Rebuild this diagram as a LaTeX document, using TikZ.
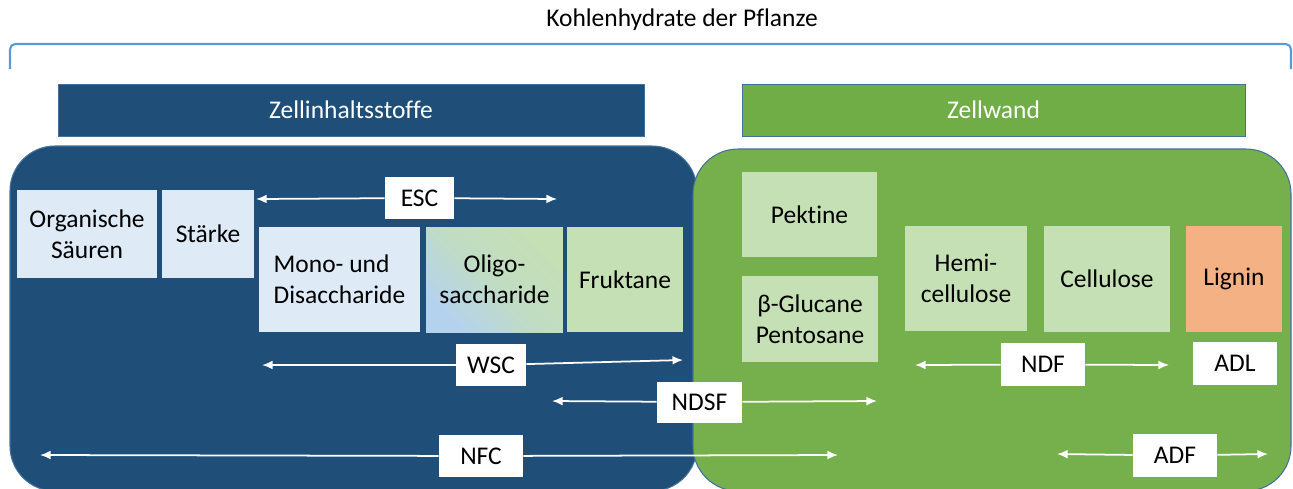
\documentclass[tikz,border=0pt]{standalone}
\usepackage{fontspec}
\setmainfont{Carlito}[Ligatures=NoCommon]
\usetikzlibrary{arrows.meta}
\definecolor{dblue}{HTML}{1F4E79}
\definecolor{bgreen}{HTML}{70AD47}
\definecolor{cgreen}{HTML}{75B04C}
\definecolor{lblue}{HTML}{DEEBF7}
\definecolor{lgreen}{HTML}{C5E0B4}
\definecolor{lorange}{HTML}{F4B183}
\definecolor{edgec}{HTML}{41719C}
\definecolor{brack}{HTML}{5B9BD5}
\definecolor{oblue}{HTML}{B4D2EE}
\tikzset{
  txt/.style={font=\fontsize{14.5}{17.5}\selectfont},
  head/.style={txt, draw=edgec, line width=0.5pt, text=white, inner sep=0pt},
  lbox/.style={txt, fill=lblue, inner sep=0pt, align=center},
  gbox/.style={txt, fill=lgreen, inner sep=0pt, align=center},
  tag/.style={txt, fill=white, inner sep=0pt},
  arr/.style={draw=white, line width=1pt, -{Latex[length=6pt,width=5pt]}},
  region/.style={draw=edgec, line width=0.6pt, rounded corners=0.9cm},
}
\begin{document}
\begin{tikzpicture}[x=0.02cm,y=-0.02cm]
\useasboundingbox (0,0) rectangle (1293,488);
% title and bracket
\node[txt] (title) at (682,20) {Kohlenhydrate der Pflanze};
\draw[brack, line width=1.2pt, rounded corners=3pt] (10,69) -- (10,44) -- (1291,44) -- (1291,69);
% headers
\node[head, fill=dblue, minimum width=11.72cm, minimum height=1.04cm] (zi) at (351,110) {Zellinhaltsstoffe};
\node[head, fill=bgreen, minimum width=10.06cm, minimum height=1.04cm] (zw) at (993.5,110) {Zellwand};
% regions
\draw[region, fill=dblue] (10,146) rectangle (697,491);
\draw[region, fill=cgreen] (693,149) rectangle (1291,491);
% blue side boxes
\node[lbox, minimum width=2.8cm, minimum height=1.76cm] (org) at (87,234) {Organische\\Säuren};
\node[lbox, minimum width=1.84cm, minimum height=1.76cm] (staerke) at (208,234) {Stärke};
\node[lbox, align=left, minimum width=3.22cm, minimum height=2.1cm] (mono) at (339.5,279.5) {Mono- und\\Disaccharide};
\node[txt, align=center, inner sep=0pt, minimum width=2.74cm, minimum height=2.1cm,
  top color=lgreen, bottom color=oblue, middle color=lgreen!75!oblue, shading angle=-45] (oligo) at (494.5,279.5) {Oligo-\\saccharide};
\node[gbox, minimum width=2.32cm, minimum height=2.1cm] (frukt) at (625,279.5) {Fruktane};
% green side boxes
\node[gbox, minimum width=2.7cm, minimum height=1.7cm] (pekt) at (809.5,214.5) {Pektine};
\node[gbox, minimum width=2.72cm, minimum height=1.72cm] (gluc) at (810,319) {β-Glucane\\Pentosane};
\node[gbox, minimum width=2.44cm, minimum height=2.1cm] (hemi) at (966,278.5) {Hemi-\\cellulose};
\node[gbox, minimum width=2.52cm, minimum height=2.12cm] (cell) at (1107,279) {Cellulose};
\node[gbox, fill=lorange, minimum width=1.92cm, minimum height=2.12cm] (lig) at (1234,279) {Lignin};
% arrow end points
\coordinate (escL) at (256,199);  \coordinate (escR) at (557,199);
\coordinate (wscL) at (262,365);  \coordinate (wscR) at (683,360);
\coordinate (ndsfL) at (552,401); \coordinate (ndsfR) at (877,401);
\coordinate (nfcL) at (40,455);   \coordinate (nfcR) at (838,455);
\coordinate (ndfL) at (915,365);  \coordinate (ndfR) at (1169,365);
\coordinate (adfL) at (1057,454); \coordinate (adfR) at (1268,454);
% tags
\node[tag, minimum width=1.38cm, minimum height=0.84cm] (esc) at (419.5,198) {ESC};
\node[tag, minimum width=1.4cm, minimum height=0.84cm] (wsc) at (491,365) {WSC};
\node[tag, minimum width=1.7cm, minimum height=0.82cm] (ndsf) at (699.5,402) {NDSF};
\node[tag, minimum width=1.68cm, minimum height=0.84cm] (nfc) at (481,456) {NFC};
\node[tag, minimum width=1.68cm, minimum height=0.86cm] (ndf) at (1043,364.5) {NDF};
\node[tag, minimum width=1.68cm, minimum height=0.86cm] (adl) at (1235,363.5) {ADL};
\node[tag, minimum width=1.68cm, minimum height=0.86cm] (adf) at (1175,455.5) {ADF};
% arrows
\draw[arr] (esc) -- (escL);  \draw[arr] (esc) -- (escR);
\draw[arr] (wsc) -- (wscL);  \draw[arr] (wsc) -- (wscR);
\draw[arr] (ndsf) -- (ndsfL); \draw[arr] (ndsf) -- (ndsfR);
\draw[arr] (nfc) -- (nfcL);  \draw[arr] (nfc) -- (nfcR);
\draw[arr] (ndf) -- (ndfL);  \draw[arr] (ndf) -- (ndfR);
\draw[arr] (adf) -- (adfL);  \draw[arr] (adf) -- (adfR);
\end{tikzpicture}
\end{document}
